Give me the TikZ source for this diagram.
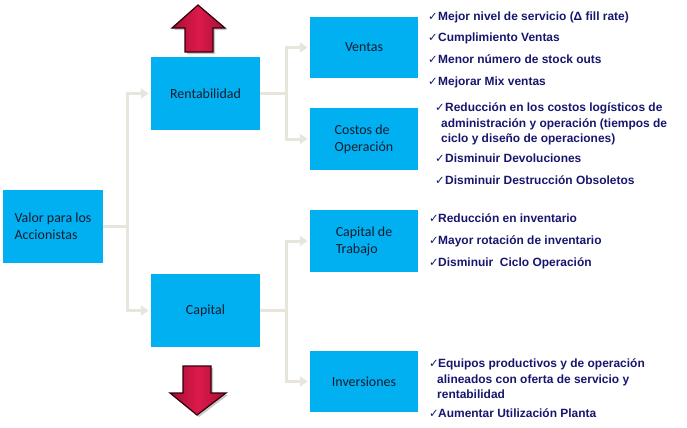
\documentclass[tikz,border=0pt]{standalone}
\usepackage{fontspec}
\setmainfont{Liberation Sans}
\newfontfamily\boxfont{Carlito}
\newfontfamily\symfont{DejaVu Sans}
\usetikzlibrary{arrows.meta}
\definecolor{boxblue}{HTML}{00B0F0}
\definecolor{boxtext}{HTML}{121C30}
\definecolor{navy}{HTML}{16166E}
\definecolor{conncol}{HTML}{E8E6DC}
\definecolor{redmid}{HTML}{DC1A4C}
\definecolor{reddark}{HTML}{A80E34}
\definecolor{redline}{HTML}{30000A}
\definecolor{shadowgray}{HTML}{C8C8C8}
\begin{document}
\begin{tikzpicture}[x=1bp,y=-1bp,
 blk/.style={draw=none, fill=boxblue, inner sep=0pt, align=left, font=\boxfont\fontsize{14}{17}\selectfont, text=boxtext},
 conn/.style={draw=conncol, line width=3bp, -{Triangle[length=8bp,width=10bp]}, shorten >=2bp},
 plainline/.style={draw=conncol, line width=3bp},
 item/.style={anchor=base west, inner sep=0pt, font=\bfseries\fontsize{12}{14}\selectfont, text=navy},
 chk/.style={anchor=base west, inner sep=0pt, font=\symfont\fontsize{11.5}{12}\selectfont, text=navy},
 bigarrow/.style={draw=redline, line width=1.2bp, left color=reddark, right color=reddark, middle color=redmid},
 arrowshadow/.style={fill=shadowgray, draw=none}]
\useasboundingbox (0,0) rectangle (687,427);

% boxes
\node[blk, minimum width=100bp, minimum height=73bp] (valor) at (53,226.5) {Valor para los\\Accionistas};
\node[blk, minimum width=109bp, minimum height=73bp] (rent) at (205.5,93.5) {Rentabilidad};
\node[blk, minimum width=109bp, minimum height=73bp] (capital) at (205.5,310.5) {Capital};
\node[blk, minimum width=108bp, minimum height=61bp] (ventas) at (364,47.5) {Ventas};
\node[blk, minimum width=108bp, minimum height=62bp] (costos) at (364,139) {Costos de\\Operación};
\node[blk, minimum width=108bp, minimum height=62bp] (captrab) at (364,241) {Capital de\\Trabajo};
\node[blk, minimum width=108bp, minimum height=61bp] (inv) at (364,381.5) {Inversiones};

% connectors
\coordinate (j1) at (127,0);
\coordinate (j2) at (286,0);
\draw[plainline] (valor.east) -- (valor.east -| j1);
\draw[conn] (valor.east -| j1) |- (rent.west);
\draw[conn] (valor.east -| j1) |- (capital.west);
\draw[plainline] (rent.east) -- (rent.east -| j2);
\draw[conn] (rent.east -| j2) |- (ventas.west);
\draw[conn] (rent.east -| j2) |- (costos.west);
\draw[plainline] (capital.east) -- (capital.east -| j2);
\draw[conn] (capital.east -| j2) |- (captrab.west);
\draw[conn] (capital.east -| j2) |- (inv.west);

% red arrows
\begin{scope}[shift={(2,2)}]
\path[arrowshadow] (198,5) -- (225,28) -- (213,28) -- (213,52) -- (185,52) -- (185,28) -- (172,28) -- cycle;
\path[arrowshadow] (197,415) -- (226,393) -- (211,393) -- (211,366) -- (183,366) -- (183,393) -- (170,393) -- cycle;
\end{scope}
\path[bigarrow] (198,5) -- (225,28) -- (213,28) -- (213,52) -- (185,52) -- (185,28) -- (172,28) -- cycle;
\path[bigarrow] (197,415) -- (226,393) -- (211,393) -- (211,366) -- (183,366) -- (183,393) -- (170,393) -- cycle;

% Ventas items
\node[chk] (cv1) at (428,20.5) {✓};
\node[item] (v1) at (438,20.5) {Mejor nivel de servicio (Δ fill rate)};
\node[chk] (cv2) at (428,41.5) {✓};
\node[item] (v2) at (438,41.5) {Cumplimiento Ventas};
\node[chk] (cv3) at (428,63.5) {✓};
\node[item] (v3) at (438,63.5) {Menor número de stock outs};
\node[chk] (cv4) at (428,85.5) {✓};
\node[item] (v4) at (438,85.5) {Mejorar Mix ventas};

% Costos items
\node[chk] (cc1) at (435,111.5) {✓};
\node[item] (c1) at (445,111.5) {Reducción en los costos logísticos de};
\node[item] (c1b) at (441,127.5) {administración y operación (tiempos de};
\node[item] (c1c) at (441,142.5) {ciclo y diseño de operaciones)};
\node[chk] (cc2) at (435,162.5) {✓};
\node[item] (c2) at (445,162.5) {Disminuir Devoluciones};
\node[chk] (cc3) at (435,184.5) {✓};
\node[item] (c3) at (445,184.5) {Disminuir Destrucción Obsoletos};

% Capital de trabajo items
\node[chk] (ct1c) at (429,222.5) {✓};
\node[item] (ct1) at (438,222.5) {Reducción en inventario};
\node[chk] (ct2c) at (429,244.5) {✓};
\node[item] (ct2) at (438,244.5) {Mayor rotación de inventario};
\node[chk] (ct3c) at (429,266.5) {✓};
\node[item] (ct3) at (438,266.5) {Disminuir\ \ Ciclo Operación};

% Inversiones items
\node[chk] (ci1) at (429,367.5) {✓};
\node[item] (i1) at (438,367.5) {Equipos productivos y de operación};
\node[item] (i1b) at (437,383.5) {alineados con oferta de servicio y};
\node[item] (i1c) at (437,398.5) {rentabilidad};
\node[chk] (ci2) at (429,417.5) {✓};
\node[item] (i2) at (438,417.5) {Aumentar Utilización Planta};
\end{tikzpicture}
\end{document}
